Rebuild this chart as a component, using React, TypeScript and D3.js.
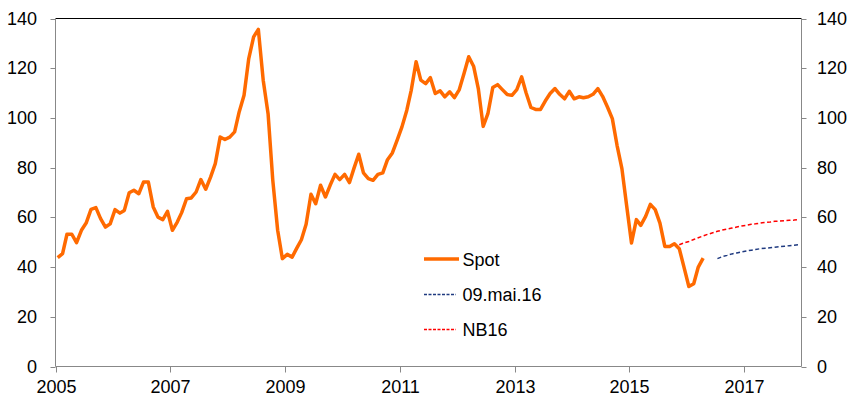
import React from "react";
import * as d3 from "d3";

const START_YEAR = 2005;
const spot: number[] = [
  // 2005
  43.8, 45.4, 53.2, 53.2, 49.8, 54.8, 57.7, 63.2, 63.9, 59.5, 56.1, 57.4,
  // 2006
  63.1, 61.7, 62.8, 69.9, 70.9, 69.5, 74.2, 74.2, 64.2, 60.1, 59.1, 62.4,
  // 2007
  54.8, 58.1, 61.9, 67.5, 67.8, 70.2, 75.2, 71.3, 76.2, 81.6, 92.3, 91.3,
  // 2008
  92.3, 94.4, 102.4, 109.1, 123.9, 132.6, 135.6, 115.2, 101.7, 74.9, 54.8, 43.4,
  // 2009
  45.1, 44.0, 47.4, 51.0, 57.2, 69.3, 65.5, 72.9, 68.2, 72.9, 77.3, 75.2,
  // 2010
  77.3, 74.0, 79.6, 85.4, 77.9, 75.6, 74.9, 77.3, 77.9, 83.2, 85.9, 91.0,
  // 2011
  96.4, 103.1, 111.1, 122.6, 115.2, 113.8, 116.2, 109.8, 110.9, 108.5, 110.5, 108.2,
  // 2012
  111.4, 118.1, 124.6, 120.8, 111.8, 96.6, 101.7, 112.2, 113.4, 111.4, 109.4, 109.1,
  // 2013
  111.4, 116.5, 110.1, 104.2, 103.4, 103.4, 106.8, 109.8, 111.8, 109.5, 107.7, 110.7,
  // 2014
  107.7, 108.5, 108.1, 108.5, 109.5, 111.8, 108.7, 104.4, 99.7, 89.0, 79.6, 64.8,
  // 2015
  49.7, 59.1, 56.8, 60.4, 65.2, 63.1, 57.7, 48.3, 48.3, 49.4, 47.4, 40.0,
  // 2016
  32.2, 33.3, 40.0, 43.6,
];

// 09.mai.16 forward curve, Jul 2016 - Dec 2017
const FWD_START = { year: 2016, month: 6 };
const fwd: number[] = [
  43.4, 44.2, 44.7, 45.3, 45.7, 46.1, 46.5, 46.8, 47.1, 47.4, 47.6, 47.8,
  48.0, 48.2, 48.4, 48.6, 48.8, 49.0,
];

// NB16 projection, Nov 2015 - Dec 2017
const NB_START = { year: 2015, month: 10 };
const nb16: number[] = [
  49.0, 49.7, 50.3, 51.1, 51.8, 52.5, 53.2, 53.8, 54.4, 54.9, 55.3, 55.7,
  56.1, 56.5, 56.8, 57.2, 57.4, 57.7, 58.0, 58.1, 58.4, 58.5, 58.7, 58.8,
  58.9, 59.1,
];

const yTicks = [0, 20, 40, 60, 80, 100, 120, 140];
const xTickYears = [2005, 2007, 2009, 2011, 2013, 2015, 2017];
const legendLabels = ["Spot", "09.mai.16", "NB16"];

const W = 851;
const H = 401;
const L = 55.5;
const R = 801.5;
const T = 18.5;
const B = 366.5;

const FONT = "'Liberation Sans', Arial, sans-serif";

function toPts(vals: number[], year: number, month: number) {
  return vals.map((v, i) => ({ d: new Date(year, month + i, 15), v }));
}

export default function App() {
  const x = d3.scaleTime().domain([new Date(2005, 0, 1), new Date(2018, 0, 1)]).range([L, R]);
  const y = d3.scaleLinear().domain([0, 140]).range([B, T]);
  const line = d3
    .line<{ d: Date; v: number }>()
    .x((p) => x(p.d))
    .y((p) => y(p.v));

  const spotPts = toPts(spot, START_YEAR, 0);
  const fwdPts = toPts(fwd, FWD_START.year, FWD_START.month);
  const nbPts = toPts(nb16, NB_START.year, NB_START.month);

  const axisColor = "#888888";
  const orange = "#FF6A00";
  const navy = "#1F3A80";
  const red = "#FF0000";
  const dash = "4,2.5";

  const legX1 = 424;
  const legX2 = 459;
  const legY = [259, 294.5, 329.5];

  return (
    <svg width={W} height={H} style={{ position: "absolute", left: 0, top: 0 }} fontFamily={FONT}>
      <rect x={0} y={0} width={W} height={H} fill="#fff" />
      {/* top border */}
      <line x1={L} x2={R} y1={T} y2={T} stroke="#000" strokeWidth={1} />
      {/* axes */}
      <line x1={L} x2={L} y1={T} y2={B} stroke={axisColor} strokeWidth={1} />
      <line x1={R} x2={R} y1={T} y2={B} stroke={axisColor} strokeWidth={1} />
      <line x1={L} x2={R} y1={B} y2={B} stroke={axisColor} strokeWidth={1} />
      {yTicks.map((t) => (
        <g key={t}>
          <line x1={L - 5} x2={L} y1={Math.round(y(t)) + 0.5} y2={Math.round(y(t)) + 0.5} stroke={axisColor} />
          <line x1={R} x2={R + 5} y1={Math.round(y(t)) + 0.5} y2={Math.round(y(t)) + 0.5} stroke={axisColor} />
          <text x={37} y={y(t) + 6} textAnchor="end" fontSize={18} fill="#000">
            {t}
          </text>
          <text x={817} y={y(t) + 6} textAnchor="start" fontSize={18} fill="#000">
            {t}
          </text>
        </g>
      ))}
      {xTickYears.map((yr) => {
        const xx = Math.round(x(new Date(yr, 0, 1))) + 0.5;
        return (
          <g key={yr}>
            <line x1={xx} x2={xx} y1={B} y2={B + 6} stroke={axisColor} />
            <text x={xx} y={393} textAnchor="middle" fontSize={18} fill="#000">
              {yr}
            </text>
          </g>
        );
      })}
      {/* series */}
      <path d={line(nbPts) || ""} fill="none" stroke={red} strokeWidth={1.5} strokeDasharray={dash} />
      <path d={line(fwdPts) || ""} fill="none" stroke={navy} strokeWidth={1.5} strokeDasharray={dash} />
      <path d={line(spotPts) || ""} fill="none" stroke={orange} strokeWidth={3.5} strokeLinejoin="round" />
      {/* legend */}
      <line x1={legX1} x2={legX2} y1={legY[0]} y2={legY[0]} stroke={orange} strokeWidth={3.5} />
      <line x1={legX1} x2={legX2 - 3} y1={legY[1]} y2={legY[1]} stroke={navy} strokeWidth={1.3} strokeDasharray="3,1.5" />
      <line x1={legX1} x2={legX2 - 3} y1={legY[2]} y2={legY[2]} stroke={red} strokeWidth={1.3} strokeDasharray="3,1.5" />
      {legendLabels.map((lab, i) => (
        <text key={lab} x={462.5} y={legY[i] + 6.5} fontSize={18} fill="#000">
          {lab}
        </text>
      ))}
    </svg>
  );
}
